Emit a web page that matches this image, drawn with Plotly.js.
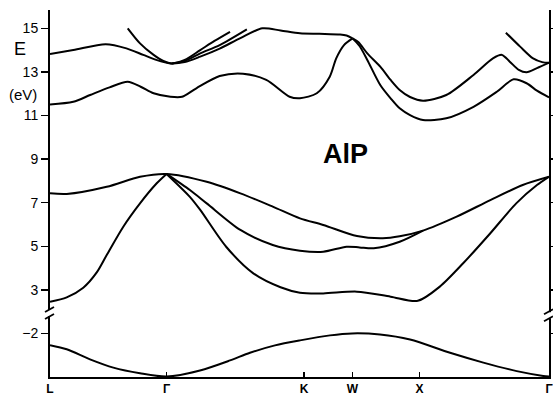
<!DOCTYPE html>
<html>
<head>
<meta charset="utf-8">
<script src="https://cdn.plot.ly/plotly-3.0.1.min.js"></script>
<style>html,body{margin:0;padding:0;background:#fff;}#chart{width:553px;height:396px;}</style>
</head>
<body>
<div id="chart"></div>
<script>
// k-path positions of symmetry points and their labels
const kTicks = [0, 0.90, 1.961, 2.336, 2.853, 3.853];
const kLabels = ['L', 'Γ', 'K', 'W', 'X', 'Γ'];
const eTicksUpper = [3, 5, 7, 9, 11, 13, 15];
const eTicksLower = [-2];
const eTickTextLower = ['−2'];

// Conduction bands (eV)
const kC1 = [0, 0.18, 0.31, 0.46, 0.60, 0.70, 0.80, 0.93, 1.02, 1.13, 1.31, 1.49, 1.67, 1.85, 1.93, 2.06, 2.16, 2.21, 2.27, 2.336];
const eC1 = [11.51, 11.63, 11.94, 12.29, 12.55, 12.32, 12.02, 11.86, 11.86, 12.25, 12.81, 12.92, 12.63, 11.86, 11.79, 12.02, 12.78, 13.62, 14.23, 14.54];

const kC2 = [0, 0.18, 0.43, 0.59, 0.72, 0.82, 0.93, 1.04, 1.16, 1.31, 1.47, 1.64, 1.78, 1.93, 2.08, 2.24, 2.29, 2.336];
const eC2 = [13.82, 14.0, 14.27, 14.08, 13.78, 13.55, 13.39, 13.45, 13.70, 14.07, 14.55, 15.0, 14.90, 14.77, 14.75, 14.72, 14.67, 14.54];

const kC3 = [0.60, 0.695, 0.80, 0.875, 0.94, 1.04, 1.16, 1.27, 1.39];
const eC3 = [15.0, 14.31, 13.78, 13.50, 13.39, 13.55, 14.0, 14.42, 14.84];

const kC4 = [0.94, 1.04, 1.16, 1.31, 1.52];
const eC4 = [13.39, 13.50, 13.85, 14.23, 14.95];

const kC5 = [2.336, 2.38, 2.45, 2.55, 2.63, 2.70, 2.78, 2.88, 3.06, 3.27, 3.42, 3.49, 3.55, 3.62, 3.68, 3.76, 3.853];
const eC5 = [14.54, 14.37, 13.85, 13.24, 12.63, 12.17, 11.85, 11.68, 11.94, 12.86, 13.62, 13.78, 13.47, 13.09, 12.98, 13.17, 13.42];

const kC6 = [2.336, 2.39, 2.45, 2.55, 2.63, 2.70, 2.78, 2.88, 3.06, 3.27, 3.45, 3.58, 3.68, 3.76, 3.853];
const eC6 = [14.54, 14.19, 13.55, 12.40, 11.79, 11.33, 11.02, 10.79, 10.87, 11.40, 12.09, 12.66, 12.48, 12.14, 11.83];

const kC7 = [3.52, 3.63, 3.73, 3.80, 3.853];
const eC7 = [14.80, 14.16, 13.62, 13.45, 13.42];

// Valence bands (eV)
const kV1 = [0, 0.129, 0.438, 0.695, 0.90, 1.21, 1.47, 1.72, 1.93, 2.11, 2.37, 2.57, 2.70, 2.88, 3.14, 3.40, 3.65, 3.853];
const eV1 = [7.43, 7.40, 7.73, 8.19, 8.32, 7.96, 7.43, 6.82, 6.28, 5.98, 5.47, 5.37, 5.46, 5.72, 6.36, 7.12, 7.81, 8.19];

const kV2 = [0.90, 1.08, 1.21, 1.47, 1.72, 1.93, 2.11, 2.29, 2.39, 2.50, 2.70, 2.88];
const eV2 = [8.32, 7.58, 6.97, 5.75, 5.06, 4.80, 4.75, 4.98, 4.95, 4.91, 5.21, 5.72];

const kV3 = [0.90, 1.08, 1.16, 1.36, 1.57, 1.78, 1.93, 2.11, 2.37, 2.63, 2.84, 3.01, 3.19, 3.40, 3.60, 3.76, 3.853];
const eV3 = [8.32, 7.27, 6.67, 4.98, 3.76, 3.12, 2.87, 2.84, 2.92, 2.69, 2.50, 3.15, 4.22, 5.60, 6.97, 7.81, 8.19];

const kV4 = [0, 0.129, 0.257, 0.361, 0.438, 0.566, 0.695, 0.824, 0.90];
const eV4 = [2.46, 2.66, 3.10, 3.80, 4.60, 5.90, 6.97, 7.89, 8.32];

// Lowest band (below the axis break)
const kS = [0, 0.129, 0.309, 0.489, 0.695, 0.90, 1.158, 1.39, 1.544, 1.737, 1.931, 2.162, 2.332, 2.548, 2.78, 3.089, 3.346, 3.604, 3.809, 3.853];
const eS = [-2.54, -2.73, -3.19, -3.57, -3.83, -3.98, -3.70, -3.24, -2.89, -2.55, -2.32, -2.09, -2.0, -2.05, -2.28, -2.89, -3.34, -3.73, -3.95, -3.98];

const upperBands = [[kC1, eC1], [kC2, eC2], [kC3, eC3], [kC4, eC4], [kC5, eC5], [kC6, eC6], [kC7, eC7],
                    [kV1, eV1], [kV2, eV2], [kV3, eV3], [kV4, eV4]];

const lineStyle = {color: '#000', width: 2, shape: 'spline', smoothing: 0.8};
const traces = upperBands.map(([k, e]) => ({
  x: k, y: e, xaxis: 'x', yaxis: 'y2', mode: 'lines', line: lineStyle,
  hoverinfo: 'skip', showlegend: false, cliponaxis: false
}));
traces.push({x: kS, y: eS, xaxis: 'x', yaxis: 'y', mode: 'lines', line: lineStyle,
  hoverinfo: 'skip', showlegend: false, cliponaxis: false});

const FONT = 'Liberation Sans, Arial, Helvetica, sans-serif';
const split = 64 / 367;
const yCommon = {
  showgrid: false, zeroline: false, showline: true, linecolor: '#000', linewidth: 2,
  ticks: 'outside', ticklen: 7, tickwidth: 1.5, tickcolor: '#000', mirror: 'ticks',
  tickfont: {family: FONT, size: 14, color: '#000'}, anchor: 'x'
};

const breakShapes = [];
[[0, split], [1, split - 0.006]].forEach(([px, py]) => {
  breakShapes.push({type: 'rect', xref: 'paper', yref: 'paper', xsizemode: 'pixel', ysizemode: 'pixel',
    xanchor: px, yanchor: py, x0: -3, x1: 3, y0: -3, y1: 3, fillcolor: '#fff', line: {width: 0}, layer: 'above'});
  breakShapes.push({type: 'line', xref: 'paper', yref: 'paper', xsizemode: 'pixel', ysizemode: 'pixel',
    xanchor: px, yanchor: py, x0: -5, x1: 4, y0: -6, y1: -1, line: {color: '#000', width: 1.8}, layer: 'above'});
  breakShapes.push({type: 'line', xref: 'paper', yref: 'paper', xsizemode: 'pixel', ysizemode: 'pixel',
    xanchor: px, yanchor: py, x0: -5, x1: 4, y0: 1, y1: 6, line: {color: '#000', width: 1.8}, layer: 'above'});
});

const layout = {
  width: 553, height: 396,
  margin: {l: 50, r: 4, t: 10, b: 19},
  paper_bgcolor: '#fff', plot_bgcolor: '#fff',
  showlegend: false,
  xaxis: {
    range: [0, 3.853], tickvals: kTicks, ticktext: kLabels,
    ticks: 'inside', ticklen: 5, tickwidth: 1.5, tickcolor: '#000',
    showline: true, linecolor: '#000', linewidth: 2, showgrid: false, zeroline: false,
    ticklabeloverflow: 'allow',
    tickfont: {family: FONT, size: 12, color: '#000', weight: 'bold'}, anchor: 'y'
  },
  yaxis: Object.assign({}, yCommon, {domain: [0, split], range: [-4.0, -1.064],
    tickvals: eTicksLower, ticktext: eTickTextLower}),
  yaxis2: Object.assign({}, yCommon, {domain: [split, 1], range: [1.94, 15.84],
    tickvals: eTicksUpper}),
  annotations: [
    {text: 'E', xref: 'paper', yref: 'paper', x: -0.06, y: 0.8937, xanchor: 'center', yanchor: 'middle',
     showarrow: false, font: {family: FONT, size: 18, color: '#000'}},
    {text: '(eV)', xref: 'paper', yref: 'paper', x: -0.055, y: 0.7684, xanchor: 'center', yanchor: 'middle',
     showarrow: false, font: {family: FONT, size: 15, color: '#000'}},
    {text: 'AlP', xref: 'paper', yref: 'paper', x: 0.593, y: 0.6076, xanchor: 'center', yanchor: 'middle',
     showarrow: false, font: {family: FONT, size: 27, color: '#000', weight: 'bold'}}
  ],
  shapes: breakShapes
};

Plotly.newPlot('chart', traces, layout, {staticPlot: true, displayModeBar: false});
</script>
</body>
</html>
